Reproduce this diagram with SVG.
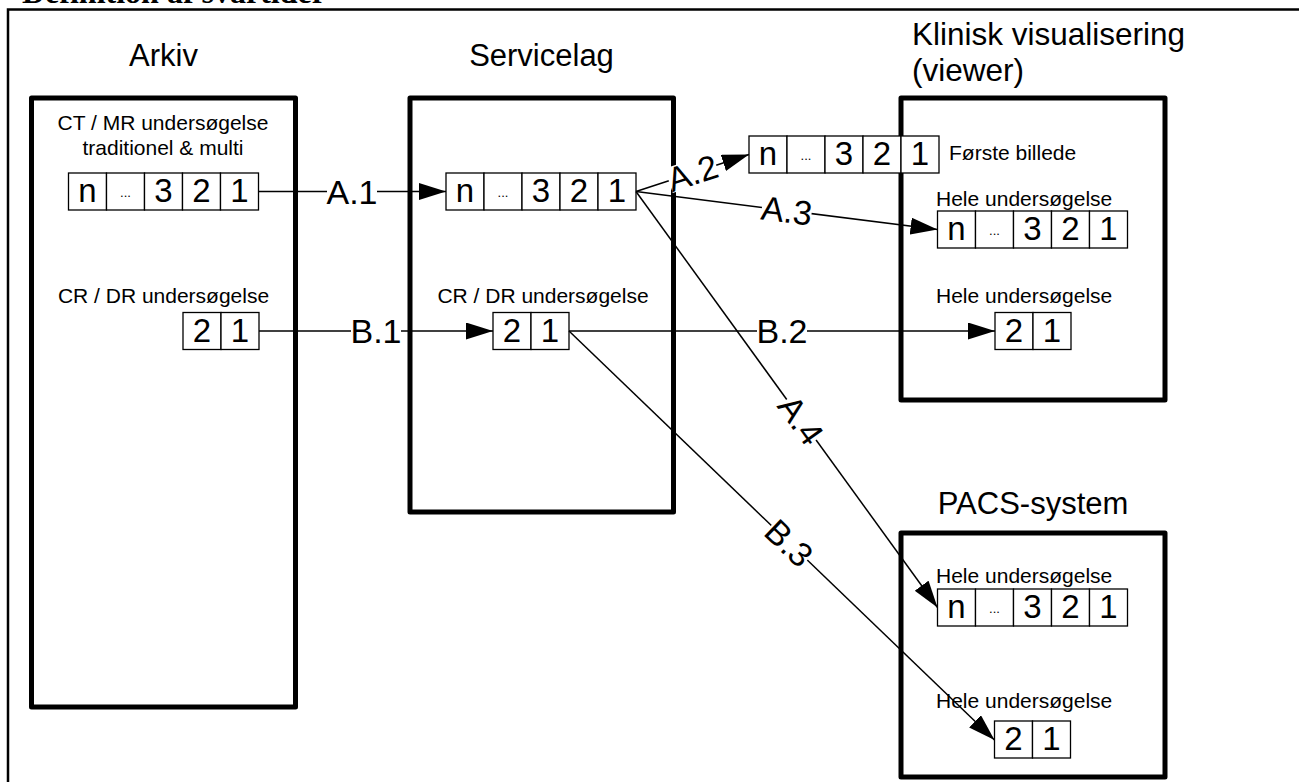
<svg xmlns="http://www.w3.org/2000/svg" width="1299" height="782" viewBox="0 0 1299 782">
<defs>
<style>
.frame{fill:none;stroke:#000;stroke-width:2.5}
.box{fill:none;stroke:#000;stroke-width:5;stroke-linejoin:round}
.cell{fill:#fff;stroke:#000;stroke-width:1.3}
.title{font-family:"Liberation Sans",Arial,sans-serif;font-size:31px;fill:#000}
.txt{font-family:"Liberation Sans",Arial,sans-serif;font-size:21px;fill:#000}
.dig{font-family:"Liberation Sans",Arial,sans-serif;font-size:33px;fill:#000;text-anchor:middle}
.dots{font-family:"Liberation Sans",Arial,sans-serif;font-size:13px;fill:#000;text-anchor:middle}
.con{fill:none;stroke:#000;stroke-width:1.5;marker-end:url(#ah)}
.lbl{font-family:"Liberation Sans",Arial,sans-serif;font-size:34px;fill:#000;text-anchor:middle}
.lbg{fill:#fff}
</style>
<marker id="ah" markerUnits="userSpaceOnUse" markerWidth="28" markerHeight="18" refX="27" refY="8.5" orient="auto">
<path d="M0,0 L27,8.5 L0,17 Z" fill="#000"/>
</marker>
<g id="row5">
<rect class="cell" x="0" y="0" width="38" height="37"/>
<rect class="cell" x="38" y="0" width="38" height="37"/>
<rect class="cell" x="76" y="0" width="38" height="37"/>
<rect class="cell" x="114" y="0" width="38" height="37"/>
<rect class="cell" x="152" y="0" width="38" height="37"/>
<text class="dig" x="19" y="29">n</text>
<text class="dots" x="57" y="24">...</text>
<text class="dig" x="95" y="29">3</text>
<text class="dig" x="133" y="29">2</text>
<text class="dig" x="171" y="29">1</text>
</g>
<g id="row2">
<rect class="cell" x="0" y="0" width="38" height="37"/>
<rect class="cell" x="38" y="0" width="38" height="37"/>
<text class="dig" x="19" y="29">2</text>
<text class="dig" x="57" y="29">1</text>
</g>
</defs>
<rect x="0" y="0" width="1299" height="782" fill="#fff"/>
<text x="22" y="3" style="font-family:'Liberation Serif','Times New Roman',serif;font-size:32px;font-weight:bold">Definition af svartider</text>
<path class="frame" d="M8,782 L8,9.5 L1299,9.5"/>

<g id="arkiv">
<rect class="box" x="31.5" y="98" width="264" height="609"/>
<text class="title" x="163.5" y="66" text-anchor="middle">Arkiv</text>
<text class="txt" x="163" y="130" text-anchor="middle">CT / MR undersøgelse</text>
<text class="txt" x="163" y="155" text-anchor="middle">traditionel &amp; multi</text>
<use href="#row5" x="68.5" y="173"/>
<text class="txt" x="163.5" y="303" text-anchor="middle">CR / DR undersøgelse</text>
<use href="#row2" x="183" y="312.5"/>
</g>

<g id="servicelag">
<rect class="box" x="410" y="98" width="263.5" height="414"/>
<text class="title" x="541.5" y="66" text-anchor="middle">Servicelag</text>
<use href="#row5" x="446" y="173"/>
<text class="txt" x="543" y="303" text-anchor="middle">CR / DR undersøgelse</text>
<use href="#row2" x="493" y="312.5"/>
</g>

<g id="klinisk">
<rect class="box" x="901" y="98" width="264" height="302"/>
<text class="title" x="912" y="45" style="font-size:31.5px">Klinisk visualisering</text>
<text class="title" x="912" y="81" style="font-size:31.5px">(viewer)</text>
<use href="#row5" x="749" y="136"/>
<text class="txt" x="949" y="160">Første billede</text>
<text class="txt" x="936" y="206">Hele undersøgelse</text>
<use href="#row5" x="937.5" y="211"/>
<text class="txt" x="936" y="303">Hele undersøgelse</text>
<use href="#row2" x="995" y="312.5"/>
</g>

<g id="pacs">
<rect class="box" x="901" y="533" width="264" height="244"/>
<text class="title" x="1033" y="514" text-anchor="middle">PACS-system</text>
<text class="txt" x="936" y="583">Hele undersøgelse</text>
<use href="#row5" x="937.5" y="589"/>
<text class="txt" x="936" y="708">Hele undersøgelse</text>
<use href="#row2" x="994.5" y="721"/>
</g>

<g id="connectors">
<line class="con" x1="258.5" y1="191.5" x2="446" y2="191.5"/>
<line class="con" x1="636" y1="191.5" x2="749" y2="154.5"/>
<line class="con" x1="636" y1="191.5" x2="937.5" y2="229.5"/>
<line class="con" x1="636" y1="191.5" x2="937.5" y2="607.5"/>
<line class="con" x1="259" y1="331" x2="493" y2="331"/>
<line class="con" x1="569" y1="331" x2="995" y2="331"/>
<line class="con" x1="569" y1="331" x2="994.5" y2="740"/>

<g transform="translate(352,191.5)"><rect class="lbg" x="-25" y="-13" width="50" height="26"/><text class="lbl" y="12">A.1</text></g>
<g transform="translate(692.5,173) rotate(-18.1)"><rect class="lbg" x="-25" y="-13" width="50" height="26"/><text class="lbl" y="12">A.2</text></g>
<g transform="translate(786.75,210.5) rotate(7.2)"><rect class="lbg" x="-25" y="-13" width="50" height="26"/><text class="lbl" y="12">A.3</text></g>
<g transform="translate(801,420) rotate(54.1)"><rect class="lbg" x="-25" y="-13" width="50" height="26"/><text class="lbl" y="12">A.4</text></g>
<g transform="translate(376,331)"><rect class="lbg" x="-25" y="-13" width="50" height="26"/><text class="lbl" y="12">B.1</text></g>
<g transform="translate(782,331)"><rect class="lbg" x="-25" y="-13" width="50" height="26"/><text class="lbl" y="12">B.2</text></g>
<g transform="translate(789,543) rotate(43.9)"><rect class="lbg" x="-25" y="-13" width="50" height="26"/><text class="lbl" y="12">B.3</text></g>
</g>
</svg>
